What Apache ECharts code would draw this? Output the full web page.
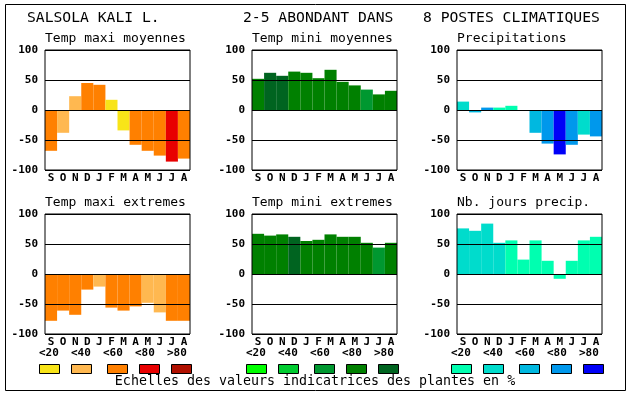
<!DOCTYPE html>
<html>
<head>
<meta charset="utf-8">
<script src="https://cdn.jsdelivr.net/npm/echarts@6/dist/echarts.min.js"></script>
<style>
html,body{margin:0;padding:0;background:#fff;}
#c{width:630px;height:394px;}
</style>
</head>
<body>
<div id="c"></div>
<script>
// ---- data ----
var months = ['S','O','N','D','J','F','M','A','M','J','J','A'];
var yTicks = [-100, 100, 50];            // min, max, interval
var classLabels = ['<20','<40','<60','<80','>80'];

var tmaxMoy    = [-68,-38,23,45,42,17,-34,-58,-68,-76,-86,-81];
var tmaxMoyCls = [2,1,1,2,2,0,0,2,2,2,3,2];

var tminMoy    = [52,62,57,64,62,53,67,47,41,34,26,32];
var tminMoyCls = [3,4,4,3,3,3,3,3,3,2,3,3];

var precip     = [14,-4,4,4,7,0,-38,-56,-74,-58,-41,-44];
var precipCls  = [1,2,3,0,0,0,2,3,4,3,1,3];

var tmaxExt    = [-78,-61,-68,-26,-21,-56,-61,-54,-48,-64,-78,-78];
var tmaxExtCls = [2,2,2,2,1,2,2,2,1,1,2,2];

var tminExt    = [67,64,66,62,55,57,66,62,62,52,44,52];
var tminExtCls = [3,3,3,4,3,3,3,3,3,3,2,3];

var nbJours    = [76,72,84,52,56,24,56,22,-8,22,56,62];
var nbJoursCls = [1,1,1,1,0,0,0,0,0,0,0,0];

var mainTitles = ['SALSOLA KALI L.', '2-5 ABONDANT DANS', '8 POSTES CLIMATIQUES'];
var panelTitles = ['Temp maxi moyennes','Temp mini moyennes','Precipitations',
                   'Temp maxi extremes','Temp mini extremes','Nb. jours precip.'];
var footer = 'Echelles des valeurs indicatrices des plantes en %';

// ---- styles ----
var palRed   = ['#F8E418','#FFB850','#FF8000','#E80000','#B01000'];
var palGreen = ['#00FF00','#00CC30','#009830','#008000','#006420'];
var palBlue  = ['#00FFB0','#00DCCC','#00B8E0','#0098EC','#0000F8'];

var panels = [
  {vals:tmaxMoy, cls:tmaxMoyCls, pal:palRed},
  {vals:tminMoy, cls:tminMoyCls, pal:palGreen},
  {vals:precip,  cls:precipCls,  pal:palBlue},
  {vals:tmaxExt, cls:tmaxExtCls, pal:palRed},
  {vals:tminExt, cls:tminExtCls, pal:palGreen},
  {vals:nbJours, cls:nbJoursCls, pal:palBlue}
];
var colLeft = [45, 252, 457];
var rowTop = [50, 214];
var gw = 145, gh = 120;

var MONO = '"DejaVu Sans Mono", "Liberation Mono", monospace';

var grids = [], xAxes = [], yAxes = [], series = [], graphics = [];
panels.forEach(function(p, i){
  var c = i % 3, r = Math.floor(i / 3);
  grids.push({left: colLeft[c], top: rowTop[r], width: gw, height: gh,
    show: true, borderColor: '#000', borderWidth: 1, z: 5, containLabel: false});
  xAxes.push({type: 'category', gridIndex: i, data: months,
    axisLine: {show: false}, axisTick: {show: false}, splitLine: {show: false},
    axisLabel: {interval: 0, color: '#000', fontFamily: MONO, fontWeight: 'bold', fontSize: 11, margin: 3}});
  yAxes.push({type: 'value', gridIndex: i, min: yTicks[0], max: yTicks[1], interval: yTicks[2], z: 5,
    axisLine: {show: false}, axisTick: {show: false},
    splitLine: {show: true, lineStyle: {color: '#000', width: 1}},
    axisLabel: {color: '#000', fontFamily: MONO, fontWeight: 'bold', fontSize: 11, margin: 7}});
  series.push({type: 'bar', xAxisIndex: i, yAxisIndex: i, barWidth: '100%', barGap: '0%',
    silent: true, animation: false,
    data: p.vals.map(function(v, k){ return {value: v, itemStyle: {color: p.pal[p.cls[k]]}}; })});
  graphics.push({type: 'text', left: colLeft[c], top: r === 0 ? 32 : 196,
    style: {text: panelTitles[i], font: '13px ' + MONO, fill: '#000'}});
});

// main titles
var mtX = [27, 243, 423];
mainTitles.forEach(function(t, i){
  graphics.push({type: 'text', left: mtX[i], top: 11,
    style: {text: t, font: '14.7px ' + MONO, fill: '#000'}});
});

// legends
var boxOff = [-6, 26, 62, 94, 126];
var labOff = [-6, 26, 58, 90, 122];
var pals = [palRed, palGreen, palBlue];
for (var c = 0; c < 3; c++) {
  for (var k = 0; k < 5; k++) {
    graphics.push({type: 'text', left: colLeft[c] + labOff[k], top: 348,
      style: {text: classLabels[k], font: 'bold 11px ' + MONO, fill: '#000'}});
    graphics.push({type: 'rect', shape: {x: colLeft[c] + boxOff[k] + 0.5, y: 364.5, width: 20, height: 9},
      style: {fill: pals[c][k], stroke: '#000', lineWidth: 1}});
  }
}
graphics.push({type: 'text', left: 'center', top: 375,
  style: {text: footer, font: '13.3px ' + MONO, fill: '#000'}});
// frame
graphics.push({type: 'rect', shape: {x: 5.5, y: 4.5, width: 620, height: 386},
  style: {fill: 'none', stroke: '#000', lineWidth: 1}});

var chart = echarts.init(document.getElementById('c'), null, {renderer: 'canvas'});
chart.setOption({
  backgroundColor: '#fff',
  animation: false,
  grid: grids, xAxis: xAxes, yAxis: yAxes, series: series,
  graphic: graphics
});
</script>
</body>
</html>
